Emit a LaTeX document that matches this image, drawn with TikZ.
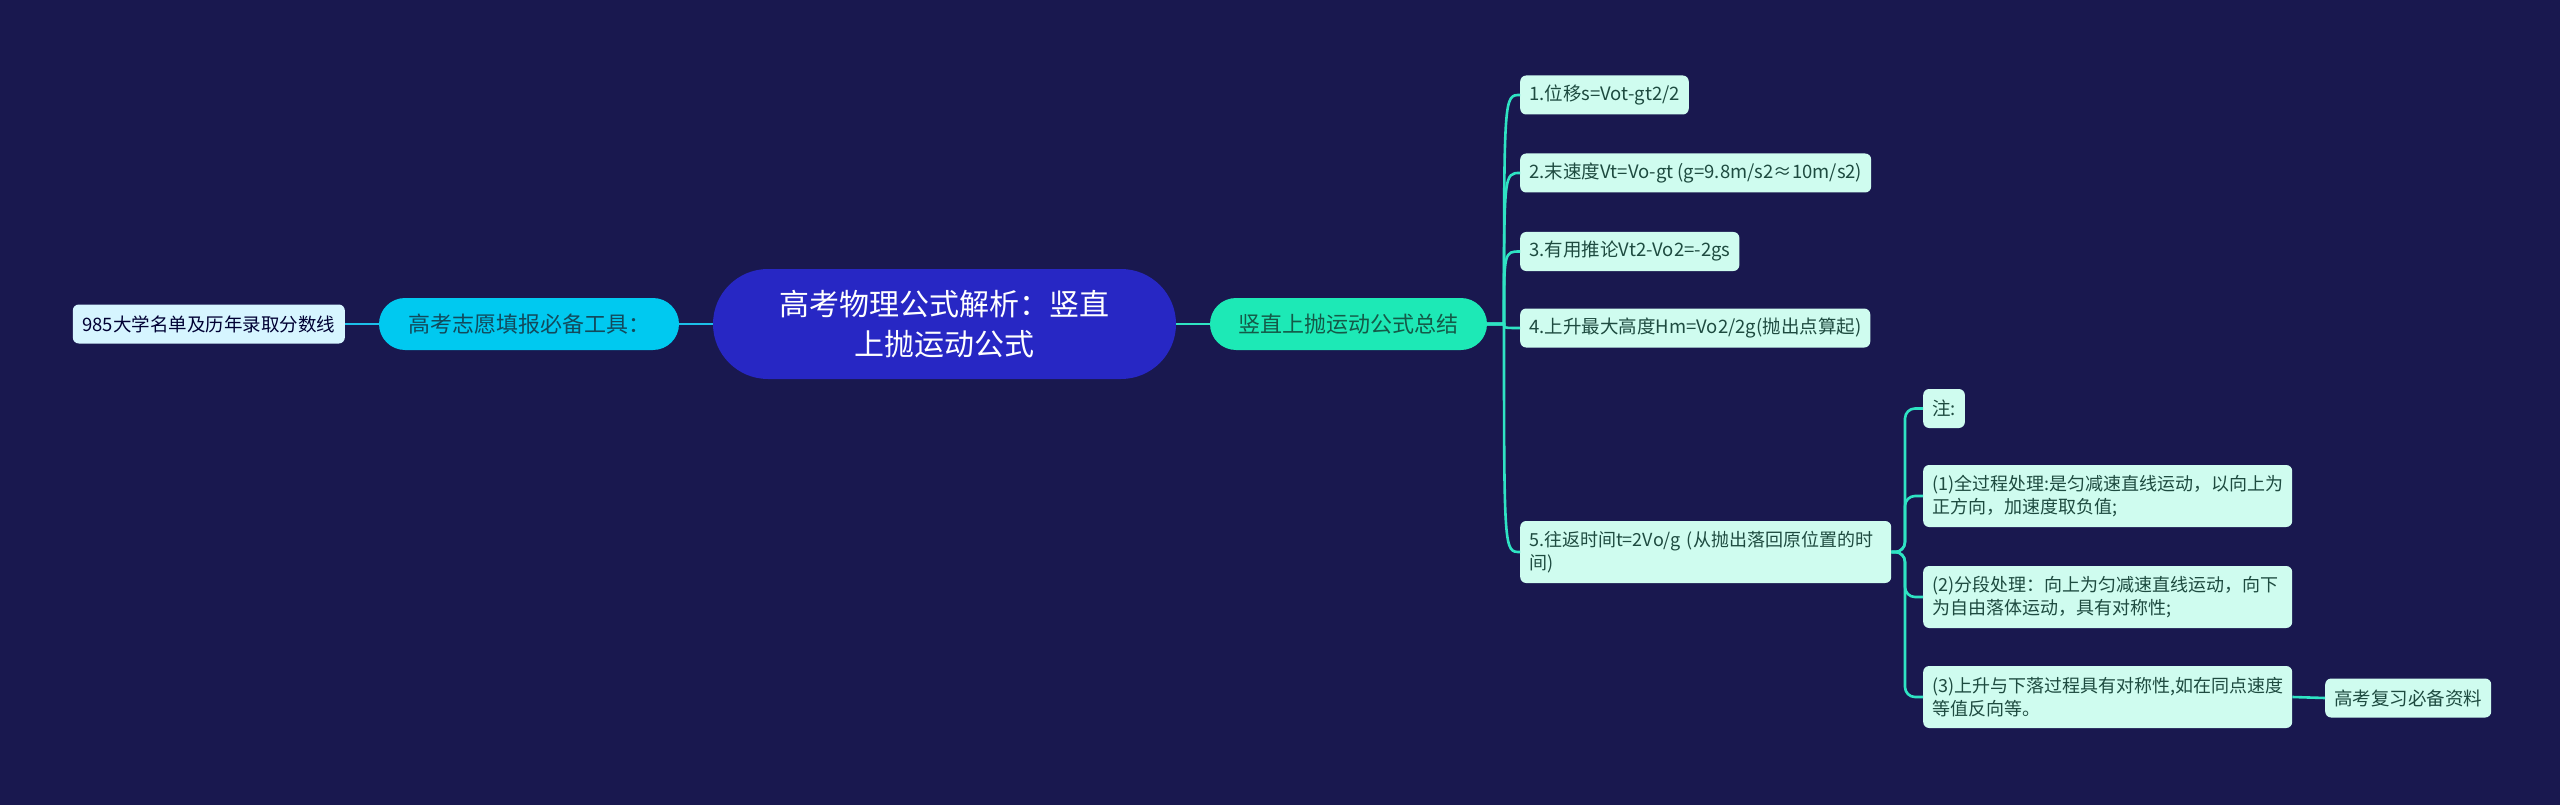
\documentclass[tikz,border=0pt]{standalone}
\usepackage{fontspec}
\setmainfont{Noto Sans CJK SC}
\usepackage{xcolor}
\usetikzlibrary{positioning}

\definecolor{bgnavy}{HTML}{19184F}
\definecolor{rootblue}{HTML}{2727C4}
\definecolor{toolcyan}{HTML}{00C9F0}
\definecolor{sumteal}{HTML}{1DE9B6}
\definecolor{leafmint}{HTML}{CFFCEF}
\definecolor{leafice}{HTML}{D6F5FF}
\definecolor{cyanline}{HTML}{1CBFEA}
\definecolor{tealline}{HTML}{2FE3C3}
\definecolor{leaftext}{HTML}{1E4B40}
\definecolor{tooltext}{HTML}{124A5C}
\definecolor{sumtext}{HTML}{145A48}

\begin{document}
\begin{tikzpicture}[x=1pt, y=-1pt,
    rootbox/.style={fill=rootblue, text=white, align=center, inner sep=0pt,
        minimum width=463pt, minimum height=110pt, rounded corners=55pt,
        font=\fontsize{30pt}{40pt}\selectfont},
    mainbox/.style={inner sep=0pt, minimum height=52pt, rounded corners=26pt,
        font=\fontsize{22pt}{26pt}\selectfont},
    leafbox/.style={fill=leafmint, text=leaftext, rounded corners=6pt, anchor=west,
        inner xsep=9pt, inner ysep=0pt, minimum height=39pt, align=left,
        font=\fontsize{18.5pt}{23pt}\selectfont},
    tallbox/.style={leafbox, minimum height=62pt,
        font=\fontsize{18pt}{23pt}\selectfont},
    tealwire/.style={draw=tealline, line width=2.6pt},
    cyanwire/.style={draw=cyanline, line width=2.6pt}]

    % Background and frame
    \fill[bgnavy] (0,0) rectangle (2560,805);
    \useasboundingbox (0,0) rectangle (2560,805);

    % Central topic
    \node[rootbox] (root) at (944.5,324) {高考物理公式解析：竖直\\上抛运动公式};

    % Left branch
    \node[mainbox, fill=toolcyan, text=tooltext, minimum width=300pt] (tool) at (529,324) {高考志愿填报必备工具：};
    \node[leafbox, fill=leafice, text=black!80!blue, anchor=east, minimum width=272pt] (list) at (345,324) {985大学名单及历年录取分数线};

    % Right branch
    \node[mainbox, fill=sumteal, text=sumtext, minimum width=277pt] (sum) at (1348.5,324) {竖直上抛运动公式总结};

    % Formula items
    \node[leafbox] (item1) at (1520,95) {1.位移s=Vot-gt2/2};
    \node[leafbox] (item2) at (1520,173) {2.末速度Vt=Vo-gt (g=9.8m/s2≈10m/s2)};
    \node[leafbox] (item3) at (1520,251.5) {3.有用推论Vt2-Vo2=-2gs};
    \node[leafbox] (item4) at (1520,328) {4.上升最大高度Hm=Vo2/2g(抛出点算起)};
    \node[tallbox, text width=353pt] (item5) at (1520,552) {5.往返时间t=2Vo/g (从抛出落回原位置的时\\间)};

    % Notes on item 5
    \node[leafbox] (note0) at (1923,408.5) {注:};
    \node[tallbox, text width=351pt] (note1) at (1923,496) {(1)全过程处理:是匀减速直线运动，以向上为\\正方向，加速度取负值;};
    \node[tallbox, text width=351pt] (note2) at (1923,597) {(2)分段处理：向上为匀减速直线运动，向下\\为自由落体运动，具有对称性;};
    \node[tallbox, text width=351pt] (note3) at (1923,697) {(3)上升与下落过程具有对称性,如在同点速度\\等值反向等。};
    \node[leafbox] (extra) at (2325,698) {高考复习必备资料};

    % Connectors, left side
    \draw[cyanwire] (root.west) -- (tool.east);
    \draw[cyanwire] (tool.west) -- (list.east);

    % Connectors, right side
    \draw[tealwire] (root.east) -- (sum.west);
    \coordinate (sumfork) at (1504,324);
    \foreach \i in {1,...,5}
        \draw[tealwire] (sum.east) -- (sumfork) .. controls (sumfork |- item\i.west) .. (item\i.west);

    \coordinate (notefork) at (1905,552);
    \foreach \j in {0,...,3}
        \draw[tealwire, rounded corners=10pt] (item5.east) -- (notefork) |- (note\j.west);
    \draw[tealwire] (note3.east) -- (extra.west);

\end{tikzpicture}
\end{document}
